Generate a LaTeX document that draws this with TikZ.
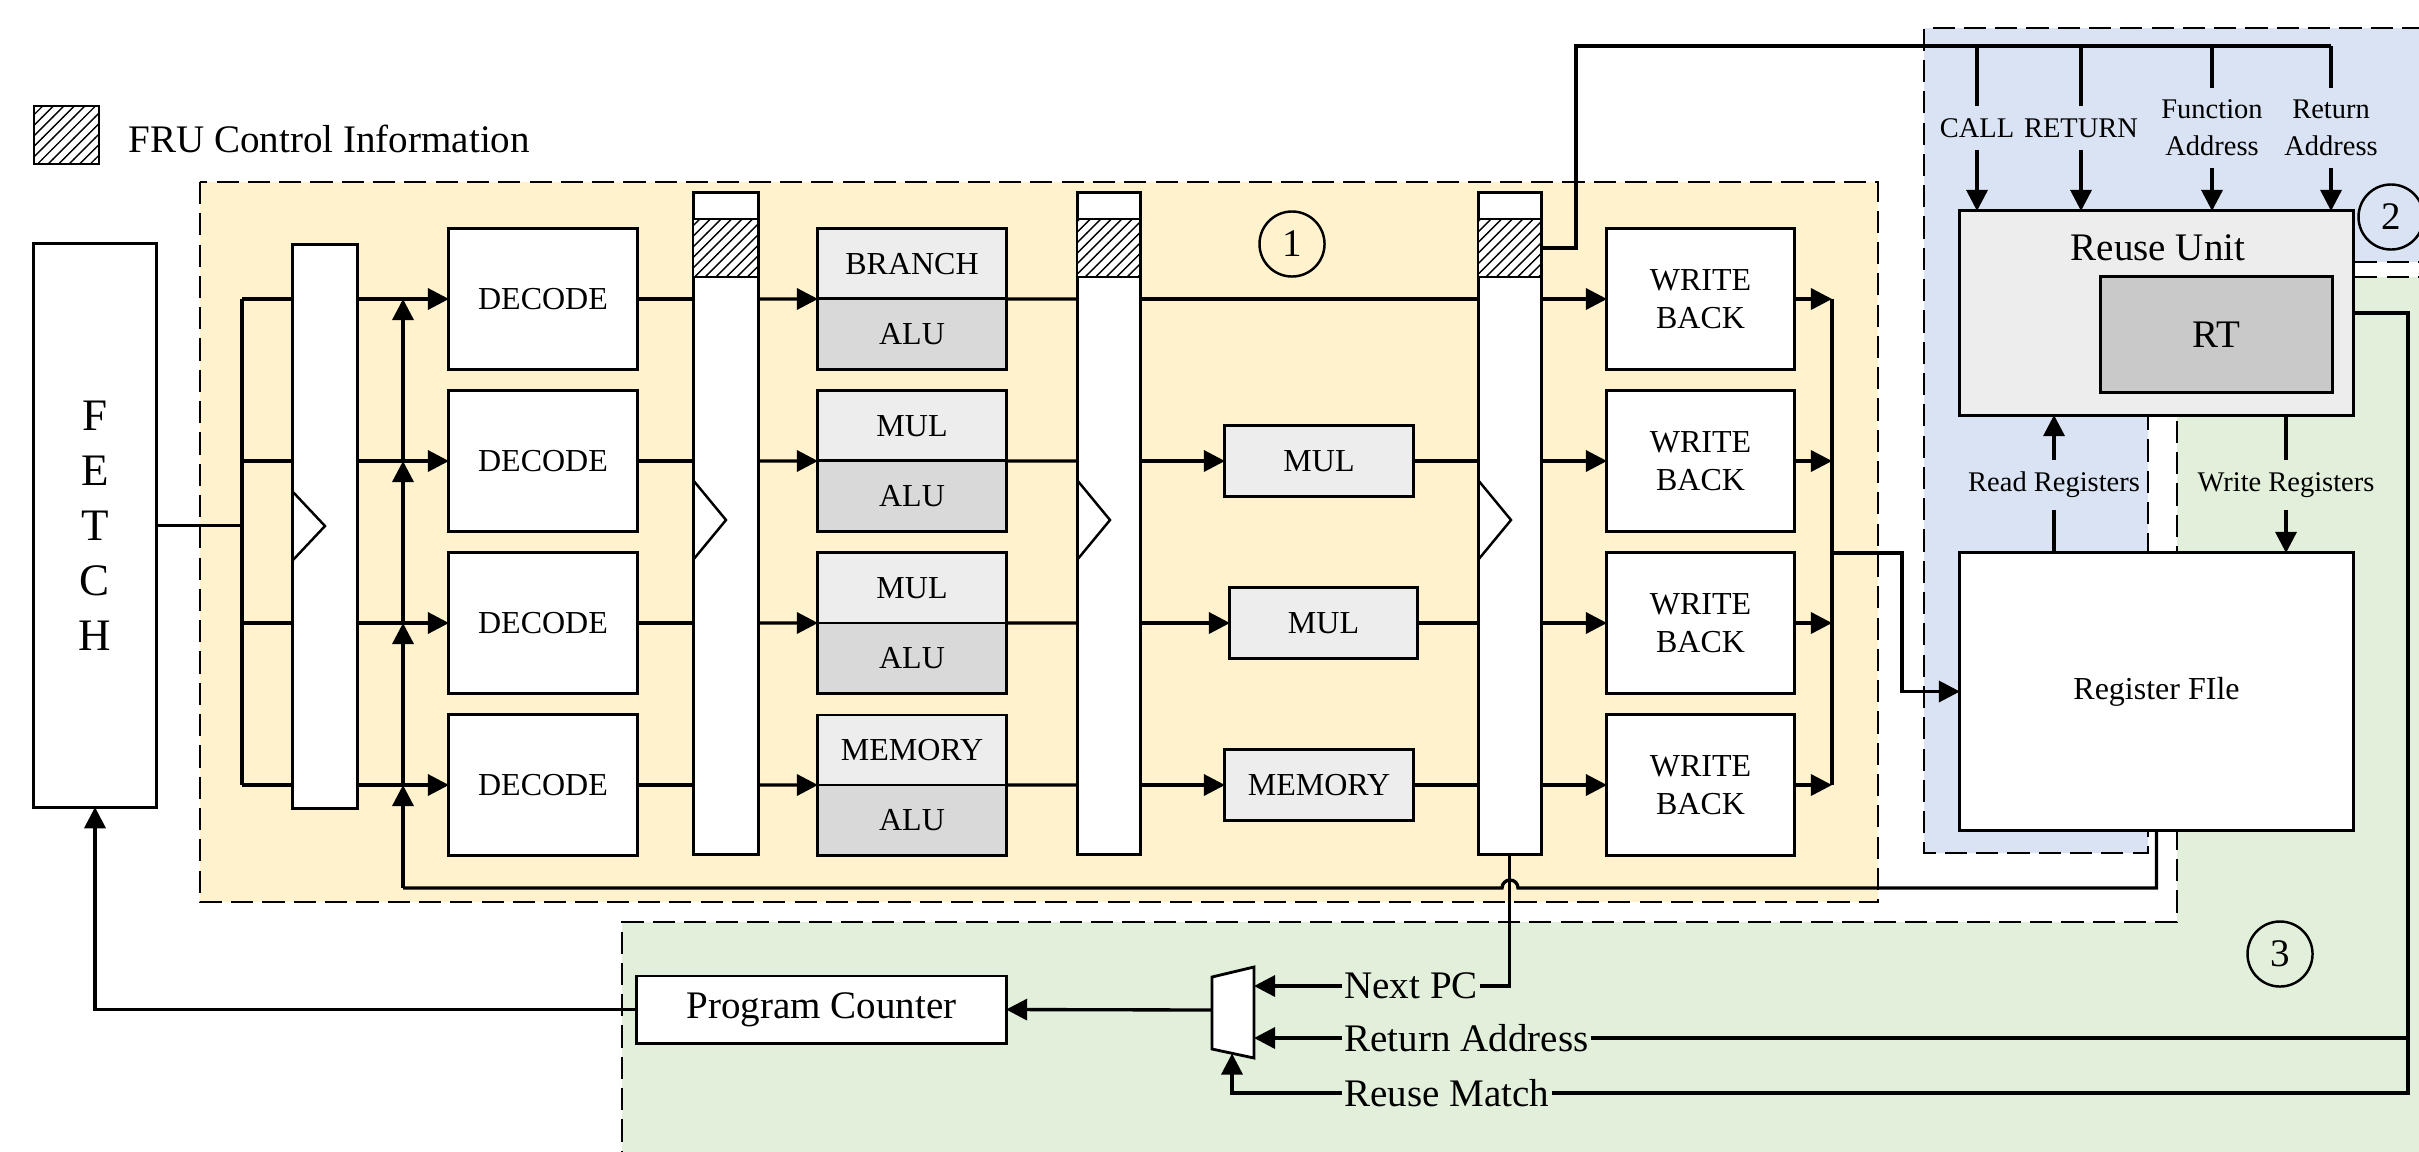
\documentclass[tikz,border=0pt]{standalone}
\usepackage{fontspec}
\setmainfont{Liberation Serif}
\usetikzlibrary{arrows.meta,patterns,calc}

\definecolor{stageA}{HTML}{FFF2CC}
\definecolor{stageB}{HTML}{DAE3F3}
\definecolor{stageC}{HTML}{E2EFDA}
\definecolor{unitlight}{HTML}{EDEDED}
\definecolor{unitdark}{HTML}{D9D9D9}
\definecolor{rtgray}{HTML}{C9C9C9}

% pipeline register: name, left x, right x (top/bottom fixed)
\newcommand{\pipereg}[3]{%
  \node[blk, fill=white, minimum width={(#3-#2)*0.01cm}, minimum height=6.61cm] (#1) at ({(#2+#3)/2},523.5) {};
  \draw[line width=0.8pt, hatch] (#2,219) rectangle (#3,277);
  \draw[line width=0.7pt] (#2,480) -- ({#2+33},520) -- (#2,560);
}

\begin{document}
\begin{tikzpicture}[x=0.01cm, y=-0.01cm,
  bigfont/.style={font=\fontsize{11.1}{13.3}\selectfont},
  midfont/.style={font=\fontsize{9.1}{10.8}\selectfont},
  smallfont/.style={font=\fontsize{8.1}{10.5}\selectfont},
  blk/.style={draw, line width=0.85pt, inner sep=0pt, outer sep=0pt},
  wire/.style={line width=0.95pt},
  arr/.style={line width=0.95pt, -{Triangle[length=6pt,width=6pt]}},
  region/.style={dash pattern=on 6.3pt off 2.6pt, line width=0.8pt},
  hatch/.style={pattern=north east lines, preaction={fill=white}},
  tag/.style={draw, circle, minimum size=0.65cm, inner sep=0pt, line width=0.7pt, bigfont},
  onwire/.style={inner sep=0.5pt, bigfont}]

\useasboundingbox (0,0) rectangle (2419,1151);
\clip (0,0) rectangle (2419,1151);

% ---- stage regions
\draw[region, fill=stageA] (200,182) rectangle (1878,902);
\draw[region, fill=stageB] (2440,262) -- (2148,262) -- (2148,853) -- (1924,853) -- (1924,28) -- (2440,28) -- cycle;
\draw[region, fill=stageC] (2440,277) -- (2177,277) -- (2177,922) -- (622,922) -- (622,1170) -- (2440,1170) -- cycle;

\node[tag] (c1) at (1292,244) {1};
\node[tag] (c2) at (2391,217) {2};
\node[tag] (c3) at (2280,954) {3};

% ---- legend
\node[draw, line width=0.8pt, hatch, minimum width=0.65cm, minimum height=0.58cm] (legbox) at (66.5,135) {};
\node[bigfont, anchor=base west, inner sep=0pt] (legtext) at (128,152) {FRU Control Information};

% ---- fetch and pipeline registers
\node[blk, fill=white, minimum width=1.22cm, minimum height=5.63cm, align=center,
      font=\fontsize{12.8}{15.65}\selectfont] (fetch) at (95,525.5) {F\\E\\T\\C\\H};
\node[blk, fill=white, minimum width=0.64cm, minimum height=5.63cm] (r1) at (325,526.5) {};
\draw[line width=0.7pt] (293,492) -- (325,526) -- (293,560);
\pipereg{r2}{693}{758}
\pipereg{r3}{1077}{1140}
\pipereg{r4}{1478}{1541}

\coordinate (bus) at (242,0);
\coordinate (fbx) at (403,0);
\coordinate (wbbus) at (1832,0);
\coordinate (fbbot) at (0,888);

% ---- per-lane units
\foreach \r/\y/\top in {1/299/BRANCH,2/461/MUL,3/623/MUL,4/785/MEMORY}{
  \coordinate (row\r) at (0,\y);
  \node[blk, fill=white, minimum width=1.88cm, minimum height=1.40cm, midfont] (dec\r) at (543,\y) {DECODE};
  \node[blk, fill=unitlight, minimum width=1.88cm, minimum height=0.70cm, midfont] (ex\r) at (912,{\y-35}) {\top};
  \node[blk, fill=unitdark, minimum width=1.88cm, minimum height=0.70cm, midfont] (alu\r) at (912,{\y+35}) {ALU};
  \node[blk, fill=white, minimum width=1.87cm, minimum height=1.40cm, midfont, align=center] (wb\r) at (1700.5,\y) {WRITE\\BACK};
}
\node[blk, fill=unitlight, minimum width=1.88cm, minimum height=0.71cm, midfont] (mem2) at (1319,461) {MUL};
\node[blk, fill=unitlight, minimum width=1.87cm, minimum height=0.71cm, midfont] (mem3) at (1323.5,623) {MUL};
\node[blk, fill=unitlight, minimum width=1.88cm, minimum height=0.71cm, midfont] (mem4) at (1319,785) {MEMORY};

% ---- lane wiring
\draw[wire] (fetch.east) -- (bus |- fetch.east);
\draw[wire] (bus |- row1) -- (bus |- row4);
\foreach \r in {1,...,4}{
  \draw[wire] (bus |- row\r) -- (r1.west |- row\r);
  \draw[arr] (r1.east |- row\r) -- (dec\r.west);
  \draw[wire] (dec\r.east) -- (r2.west |- row\r);
  \draw[arr] (r2.east |- row\r) -- (alu\r.north west);
  \draw[wire] (alu\r.north east) -- (r3.west |- row\r);
  \draw[arr] (r4.east |- row\r) -- (wb\r.west);
  \draw[arr] (wb\r.east) -- (wbbus |- row\r);
}
\draw[wire] (r3.east |- row1) -- (r4.west |- row1);
\foreach \r in {2,3,4}{
  \draw[arr] (r3.east |- row\r) -- (mem\r.west);
  \draw[wire] (mem\r.east) -- (r4.west |- row\r);
}
\draw[wire] (wbbus |- row1) -- (wbbus |- row4);

% ---- reuse unit and register file
\node[blk, fill=unitlight, minimum width=3.93cm, minimum height=2.04cm] (ru) at (2156.5,313) {};
\node[bigfont] (rutitle) at (2158,248) {Reuse Unit};
\node[blk, fill=rtgray, minimum width=2.31cm, minimum height=1.15cm, bigfont] (rt) at (2216.5,334.5) {RT};
\node[blk, fill=white, minimum width=3.93cm, minimum height=2.77cm, midfont] (rf) at (2156.5,691.5) {Register FIle};

\draw[arr] (wbbus |- 0,553) -- (1902,553) |- (rf.west);

\node[smallfont] (lread) at (2054,485) {Read Registers};
\node[smallfont] (lwrite) at (2286,485) {Write Registers};
\draw[wire] (lread.south |- rf.north) -- (lread.south);
\draw[arr] (lread.north) -- (lread.north |- ru.south);
\draw[wire] (lwrite.north |- ru.south) -- (lwrite.north);
\draw[arr] (lwrite.south) -- (lwrite.south |- rf.north);

% ---- control signals into the reuse unit
\draw[wire] (r4.east |- 0,248) -- (1576,248) -- (1576,46) -- (2331,46);
\node[smallfont] (lcall) at (1977,128) {CALL};
\node[smallfont] (lret) at (2081,128) {RETURN};
\node[smallfont, align=center] (lfun) at (2212,128) {Function\\Address};
\node[smallfont, align=center] (lrad) at (2331,128) {Return\\Address};
\foreach \n in {lcall,lret,lfun,lrad}{
  \draw[wire] (\n.north |- 0,46) -- (\n.north);
  \draw[arr] (\n.south) -- (\n.south |- ru.north);
}

% ---- next-pc selection
\draw[line width=0.8pt, fill=white] (1212,977) -- (1254,967) -- (1254,1058) -- (1212,1049) -- cycle;
\coordinate (muxout) at (1212,1010);
\node[blk, fill=white, minimum width=3.69cm, minimum height=0.67cm, bigfont] (pc) at (821.5,1009.5) {Program Counter};
\draw[arr] (muxout) -- (pc.east);
\draw[arr] (pc.west) -| (fetch.south);

\node[onwire, anchor=west] (lnext) at (1342,986) {Next PC};
\node[onwire, anchor=west] (lraddr) at (1342,1038) {Return Address};
\node[onwire, anchor=west] (lmatch) at (1342,1093) {Reuse Match};

\draw[wire] (r4.south) |- (lnext.east);
\draw[arr] (lnext.west) -- (1254,986);
\draw[wire] (ru.east) -- (2408,313) -- (2408,1093) -- (lmatch.east);
\draw[wire] (2408,1038) -- (lraddr.east);
\draw[arr] (lraddr.west) -- (1254,1038);
\draw[arr] (lmatch.west) -| (1232,1053.5);

% ---- register-file feedback to the decode lanes
\draw[wire] (rf.south) -- (rf.south |- fbbot) -- (1518,888) arc[start angle=0, end angle=180, radius=0.08cm] -- (fbx |- fbbot);
\draw[arr] (fbx |- fbbot) -- (fbx |- row4);
\foreach \a/\b in {4/3,3/2,2/1}{
  \draw[arr] (fbx |- row\a) -- (fbx |- row\b);
}
\end{tikzpicture}
\end{document}
